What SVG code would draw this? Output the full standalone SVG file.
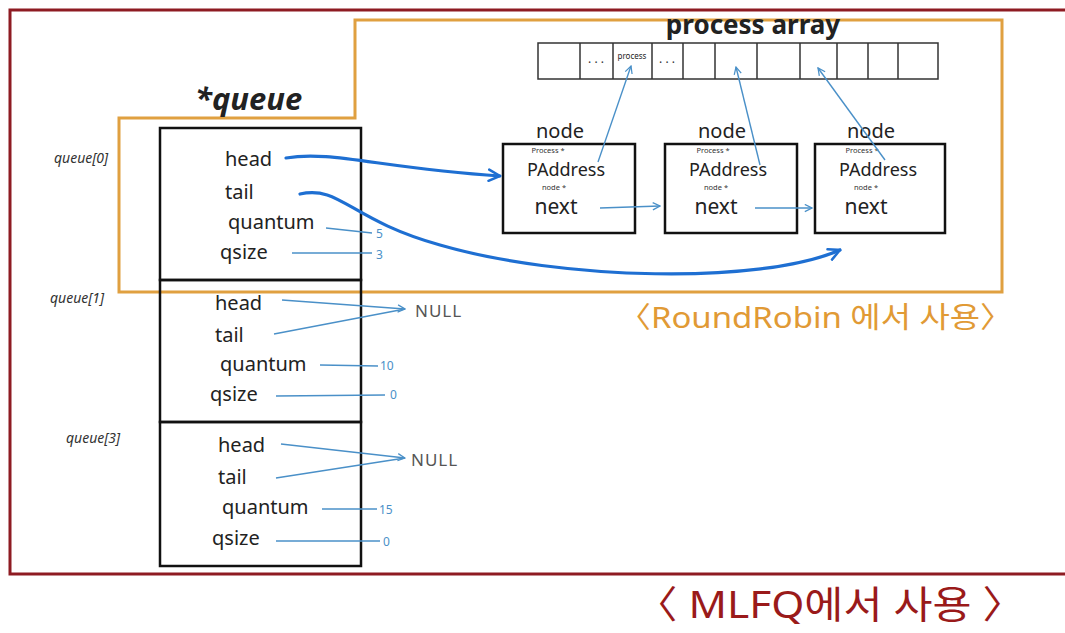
<svg xmlns="http://www.w3.org/2000/svg" width="1065" height="633" viewBox="0 0 1065 633">
  <style>
    .hand { font-family: "Noto Sans", "Noto Sans CJK KR", sans-serif; fill: #222; }
    .field { font-size: 20px; }
    .lbl { font-size: 14px; fill: #333; font-style: italic; }
    .box { fill: none; stroke: #111; stroke-width: 2.5; }
    .cell { fill: #fff; stroke: #333; stroke-width: 1.5; }
    .thin { fill: none; stroke: #4a90c8; stroke-width: 1.4; }
    .thick { fill: none; stroke: #1e6fd2; stroke-width: 3.2; stroke-linecap: round; }
    .val { font-family: "Noto Sans", sans-serif; font-size: 12px; fill: #4a90c8; }
    .null { font-family: "Noto Sans", sans-serif; font-size: 17px; fill: #555; letter-spacing: 1px; }
    .small { font-size: 7.5px; fill: #333; }
    .dots { font-size: 12px; fill: #333; }
  </style>
  <defs>
    <marker id="openArrow" viewBox="0 0 10 10" refX="9" refY="5" markerWidth="9" markerHeight="9" orient="auto" markerUnits="userSpaceOnUse">
      <path d="M1,1 L9,5 L1,9" fill="none" stroke="#4a90c8" stroke-width="1.4"/>
    </marker>
    <marker id="boldArrow" viewBox="0 0 10 10" refX="9" refY="5" markerWidth="14" markerHeight="14" orient="auto" markerUnits="userSpaceOnUse">
      <path d="M1,1 L9,5 L1,9" fill="none" stroke="#1e6fd2" stroke-width="1.8" stroke-linecap="round"/>
    </marker>
  </defs>
  <rect width="1065" height="633" fill="#fff"/>

  <!-- MLFQ frame -->
  <g id="mlfq-frame">
    <path d="M1070,10 L10,10 L10,574 L1070,574" fill="none" stroke="#8e1b22" stroke-width="3"/>
    <text x="635" y="618" textLength="390" lengthAdjust="spacingAndGlyphs" font-family="Noto Sans, Noto Sans CJK KR, sans-serif" font-size="38" fill="#9a1a1a">〈 MLFQ에서 사용 〉</text>
  </g>

  <!-- Round robin frame -->
  <g id="rr-frame">
    <path d="M119,118 L355,118 L355,20 L1002,20 L1002,292 L119,292 Z" fill="none" stroke="#e0a040" stroke-width="3"/>
    <text x="618" y="328" textLength="395" lengthAdjust="spacingAndGlyphs" font-family="Noto Sans, Noto Sans CJK KR, sans-serif" font-size="29" fill="#e19a35">〈RoundRobin 에서 사용〉</text>
  </g>

  <!-- process array -->
  <g id="process-array">
    <text x="753" y="34" text-anchor="middle" class="hand" font-size="26" font-weight="bold">process array</text>
    <rect x="538" y="43" width="400" height="36" class="cell"/>
    <g stroke="#333" stroke-width="1.5">
      <line x1="580" y1="43" x2="580" y2="79"/>
      <line x1="613" y1="43" x2="613" y2="79"/>
      <line x1="652" y1="43" x2="652" y2="79"/>
      <line x1="683" y1="43" x2="683" y2="79"/>
      <line x1="715" y1="43" x2="715" y2="79"/>
      <line x1="757" y1="43" x2="757" y2="79"/>
      <line x1="800" y1="43" x2="800" y2="79"/>
      <line x1="837" y1="43" x2="837" y2="79"/>
      <line x1="868" y1="43" x2="868" y2="79"/>
      <line x1="898" y1="43" x2="898" y2="79"/>
    </g>
    <text x="596" y="63" text-anchor="middle" class="hand dots">. . .</text>
    <text x="632" y="59" text-anchor="middle" class="hand" font-size="8">process</text>
    <text x="667" y="63" text-anchor="middle" class="hand dots">. . .</text>
  </g>

  <!-- queue title and array -->
  <g id="queue-title">
    <text x="195" y="110" class="hand" font-size="31" font-weight="bold" font-style="italic">*queue</text>
  </g>

  <g id="queue0">
    <rect x="160" y="128" width="201" height="152" class="box"/>
    <text x="54" y="163" class="hand lbl">queue[0]</text>
    <text x="225" y="166" class="hand field">head</text>
    <text x="225" y="199" class="hand field">tail</text>
    <text x="228" y="229" class="hand field">quantum</text>
    <text x="220" y="259" class="hand field">qsize</text>
    <text x="376" y="238" class="val">5</text>
    <text x="376" y="259" class="val">3</text>
  </g>

  <g id="queue1">
    <rect x="160" y="280" width="201" height="142" class="box"/>
    <text x="50" y="303" class="hand lbl">queue[1]</text>
    <text x="215" y="310" class="hand field">head</text>
    <text x="215" y="342" class="hand field">tail</text>
    <text x="220" y="371" class="hand field">quantum</text>
    <text x="210" y="401" class="hand field">qsize</text>
    <text x="415" y="317" class="null">NULL</text>
    <text x="380" y="370" class="val">10</text>
    <text x="390" y="399" class="val">0</text>
  </g>

  <g id="queue3">
    <rect x="160" y="422" width="201" height="144" class="box"/>
    <text x="66" y="443" class="hand lbl">queue[3]</text>
    <text x="218" y="452" class="hand field">head</text>
    <text x="218" y="484" class="hand field">tail</text>
    <text x="222" y="514" class="hand field">quantum</text>
    <text x="212" y="545" class="hand field">qsize</text>
    <text x="411" y="466" class="null">NULL</text>
    <text x="379" y="514" class="val">15</text>
    <text x="383" y="546" class="val">0</text>
  </g>

  <!-- list nodes -->
  <g id="node1">
    <text x="560" y="138" text-anchor="middle" class="hand" font-size="20">node</text>
    <rect x="503" y="144" width="132" height="89" class="box"/>
    <text x="548" y="153" text-anchor="middle" class="hand small">Process *</text>
    <text x="566" y="176" text-anchor="middle" class="hand" font-size="18">PAddress</text>
    <text x="554" y="190" text-anchor="middle" class="hand small">node *</text>
    <text x="556" y="214" text-anchor="middle" class="hand" font-size="21">next</text>
  </g>
  <g id="node2">
    <text x="722" y="138" text-anchor="middle" class="hand" font-size="20">node</text>
    <rect x="665" y="144" width="132" height="89" class="box"/>
    <text x="713" y="153" text-anchor="middle" class="hand small">Process *</text>
    <text x="728" y="176" text-anchor="middle" class="hand" font-size="18">PAddress</text>
    <text x="716" y="190" text-anchor="middle" class="hand small">node *</text>
    <text x="716" y="214" text-anchor="middle" class="hand" font-size="21">next</text>
  </g>
  <g id="node3">
    <text x="871" y="138" text-anchor="middle" class="hand" font-size="20">node</text>
    <rect x="815" y="144" width="130" height="89" class="box"/>
    <text x="862" y="153" text-anchor="middle" class="hand small">Process *</text>
    <text x="878" y="176" text-anchor="middle" class="hand" font-size="18">PAddress</text>
    <text x="866" y="190" text-anchor="middle" class="hand small">node *</text>
    <text x="866" y="214" text-anchor="middle" class="hand" font-size="21">next</text>
  </g>

  <!-- connectors -->
  <g id="connectors">
    <!-- node pointers into the process array -->
    <path d="M598,162 L631,66" class="thin" marker-end="url(#openArrow)"/>
    <path d="M760,165 L736,67" class="thin" marker-end="url(#openArrow)"/>
    <path d="M885,160 L818,68" class="thin" marker-end="url(#openArrow)"/>
    <!-- next links -->
    <path d="M600,208 L660,206" class="thin" marker-end="url(#openArrow)"/>
    <path d="M755,208 L812,208" class="thin" marker-end="url(#openArrow)"/>
    <!-- queue[0] head / tail -->
    <path d="M286,158 C330,150 380,168 500,176" class="thick" marker-end="url(#boldArrow)"/>
    <path d="M300,194 C340,185 350,220 440,245 C560,280 760,285 840,250" class="thick" marker-end="url(#boldArrow)"/>
    <!-- queue[0] values -->
    <path d="M326,228 L372,233" class="thin"/>
    <path d="M292,253 L372,253" class="thin"/>
    <!-- queue[1] -->
    <path d="M282,300 L405,309" class="thin" marker-end="url(#openArrow)"/>
    <path d="M274,334 L405,309" class="thin"/>
    <path d="M320,365 L378,366" class="thin"/>
    <path d="M276,396 L385,395" class="thin"/>
    <!-- queue[3] -->
    <path d="M281,444 L405,458" class="thin" marker-end="url(#openArrow)"/>
    <path d="M276,478 L405,458" class="thin"/>
    <path d="M322,509 L377,509" class="thin"/>
    <path d="M276,541 L380,541" class="thin"/>
  </g>
</svg>
